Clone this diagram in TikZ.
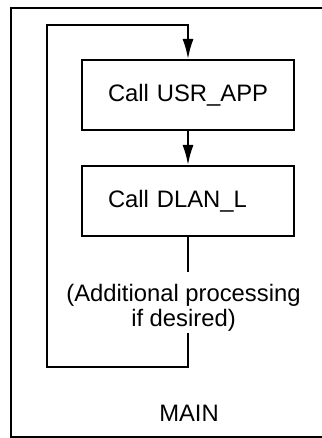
\documentclass[tikz,border=0pt]{standalone}
\usepackage{fontspec}
\setmainfont{Liberation Sans}
\usetikzlibrary{arrows.meta}
\begin{document}
\begin{tikzpicture}[x=0.5pt,y=-0.5pt,line width=1pt,
		callbox/.style={draw, minimum width=106pt, minimum height=35pt, inner ysep=0pt,
			inner xsep=13pt, text width=80pt, align=left},
		flow/.style={-{Latex[length=10pt,width=5.5pt]}},
		every node/.style={font=\fontsize{11.9}{12.5}\selectfont}]
		\useasboundingbox (0,0) rectangle (321,438);
		% frame of MAIN
		\draw (11,8) rectangle (330,437);
		\node [callbox] (usr) at (188,95) {\mbox{Call USR\_APP}};
		\node [callbox] (dlan) at (188,201) {\mbox{Call DLAN\_L}};
		\node [align=center, inner sep=0pt] (note) at (183.5,308) {(Additional processing\\if desired)};
		\node (main) at (189,413) {MAIN};
		\coordinate (loopbl) at (47,367);
		\coordinate (looptl) at (47,25);
		\draw [flow] (usr.south) -- (dlan.north);
		\draw (dlan.south) -- ([yshift=5.5pt]dlan.south |- note.north);
		\draw [flow] (usr.south |- note.south) -- (usr.south |- loopbl) -- (loopbl)
			-- (looptl) -- (usr.north |- looptl) -- (usr.north);
	\end{tikzpicture}
\end{document}
